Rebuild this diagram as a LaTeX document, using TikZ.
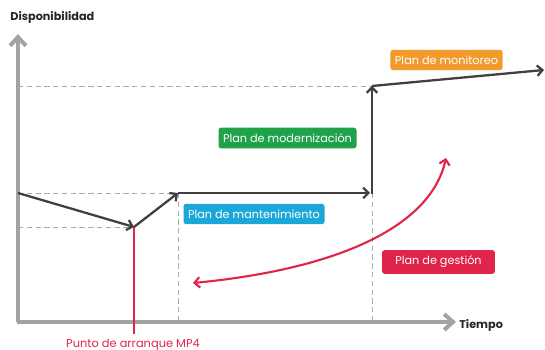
\documentclass[tikz,border=0pt]{standalone}
\usepackage{fontspec}
\setmainfont{Poppins}
\usetikzlibrary{arrows.meta}

\definecolor{axisgray}{HTML}{A3A3A3}
\definecolor{trendgray}{HTML}{404040}
\definecolor{guidegray}{HTML}{ABABAB}
\definecolor{monitorc}{HTML}{F39A2C}
\definecolor{moderc}{HTML}{1FA24A}
\definecolor{mantc}{HTML}{1BA8D8}
\definecolor{gestc}{HTML}{E0244A}

\tikzset{
  axis/.style={draw=axisgray, line width=2.3pt, -{Straight Barb[length=5pt,width=9pt]}},
  trend/.style={draw=trendgray, line width=1.3pt, -{Straight Barb[length=3pt,width=6pt]}},
  guide/.style={draw=guidegray, line width=0.5pt, dash pattern=on 3pt off 2pt},
  tag/.style={fill=#1, text=white, rounded corners=1.5pt, inner xsep=2.6pt, minimum height=0.4cm,
    font=\fontsize{6.4}{7}\selectfont},
  axislabel/.style={text=black!85, font=\fontsize{6.4}{7}\selectfont\bfseries},
}

\begin{document}
\begin{tikzpicture}[x=0.02cm, y=-0.02cm, font=\fontsize{6.5}{8}\selectfont]
	\useasboundingbox (0,0) rectangle (545,350);

	% Key points of the curve
	\coordinate (o) at (18,322);
	\coordinate (ytop) at (18,34);
	\coordinate (xend) at (456,322);
	\coordinate (p0) at (18,193);
	\coordinate (p1) at (134,227);
	\coordinate (p2) at (178,193);
	\coordinate (p3) at (370,193);
	\coordinate (p4) at (372,86);
	\coordinate (p5) at (544,70);

	% Guide lines
	\draw[guide] (18,86) -- (p4);
	\draw[guide] (p0) -- (p2);
	\draw[guide] (18,227) -- (p1);
	\draw[guide] (p2) -- (178,322);
	\draw[guide] (372,193) -- (372,322);

	% Define the axes
	\draw[axis] (o) -- (ytop);
	\draw[axis] (16.9,322) -- (xend);
	\node[axislabel, anchor=west, inner xsep=0pt] (ylab) at (10,18) {Disponibilidad};
	\node[axislabel, anchor=west, inner xsep=0pt] (xlab) at (459,325) {Tiempo};

	% Start point
	\draw[gestc, line width=0.7pt] (p1) -- (134,334);
	\node[text=gestc] (mp4) at (133,345) {Punto de arranque MP4};

	% Draw the availability curve
	\draw[trend] (p0) -- (p1);
	\draw[trend] (p1) -- (p2);
	\draw[trend] (p2) -- (p3);
	\draw[trend, shorten <=-0.6pt] (372,193) -- (p4);
	\draw[trend] (p4) -- (p5);

	% Management loop
	\draw[gestc, line width=1.2pt, {Straight Barb[length=3pt,width=6pt]}-{Straight Barb[length=3pt,width=6pt]}]
		(193,283) .. controls (330,270) and (430,230) .. (446,158);

	% Plans
	\node[tag=monitorc] (monitor) at (446.5,60) {Plan de monitoreo};
	\node[tag=moderc] (moder) at (287.5,138) {Plan de modernización};
	\node[tag=mantc] (mant) at (254,214) {Plan de mantenimiento};
	\node[tag=gestc, minimum width=2.26cm] (gest) at (438.5,262) {Plan de gestión};
\end{tikzpicture}
\end{document}
